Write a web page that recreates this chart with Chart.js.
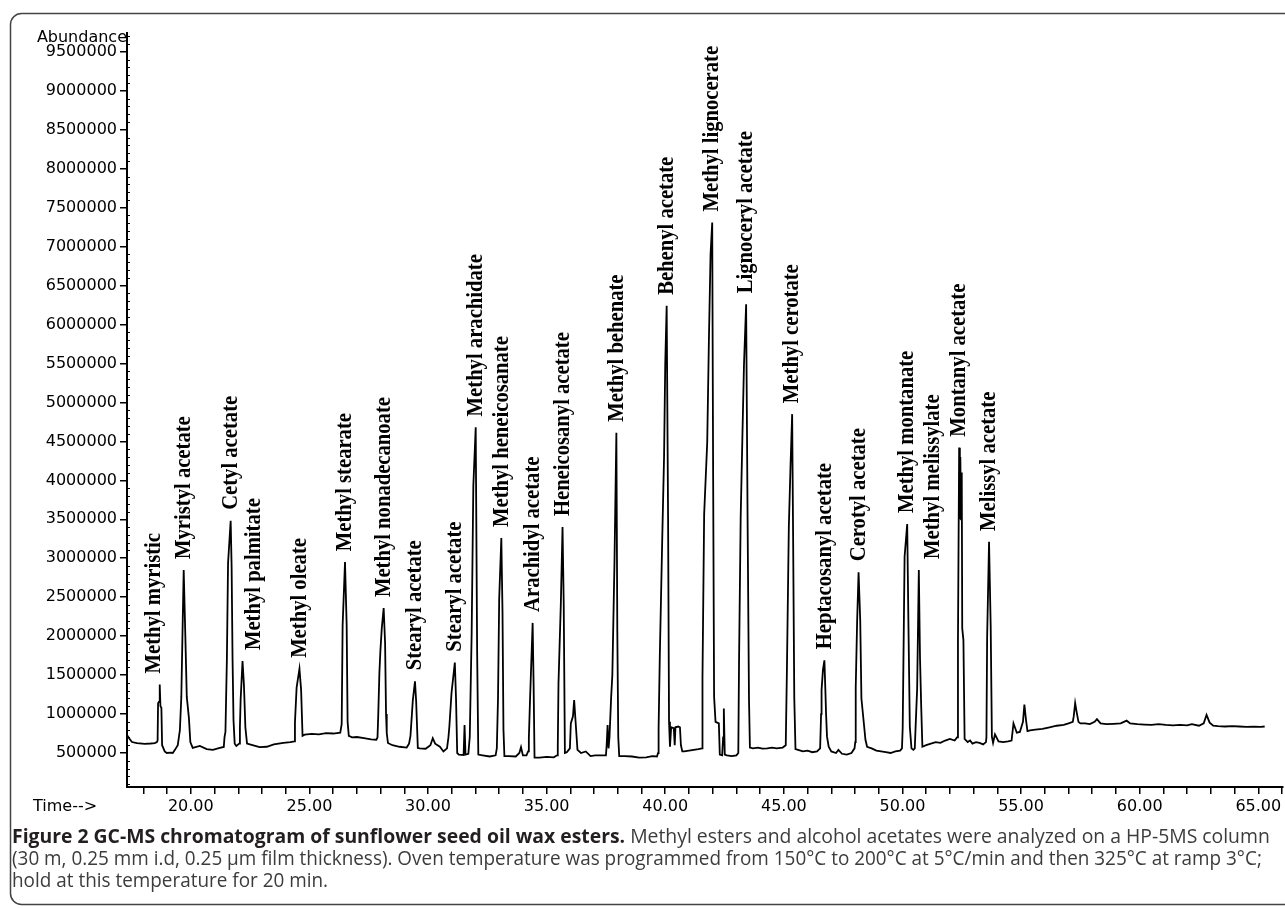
<!DOCTYPE html>
<html>
<head>
<meta charset="utf-8">
<title>GC-MS chromatogram of sunflower seed oil wax esters</title>
<script src="https://cdn.jsdelivr.net/npm/chart.js@4.4.1/dist/chart.umd.min.js"></script>
<style>
    html, body { margin: 0; padding: 0; background: #fff; }
    #page { position: relative; width: 1285px; height: 908px; overflow: hidden; }
    #chartBox { position: absolute; left: 0; top: 0; width: 1285px; height: 908px; }
    .caption {
        position: absolute; left: 12px; white-space: nowrap;
        font-family: 'Open Sans', sans-serif; font-size: 20px; line-height: 22px;
        color: #3c3c3c; transform-origin: 0 50%;
    }
    .caption b { color: #231f20; }
</style>
</head>
<body>
<div id="page">
    <div id="chartBox"><canvas id="gcms"></canvas></div>
    <div class="caption" id="cap1" style="top:825px"><b>Figure 2 GC-MS chromatogram of sunflower seed oil wax esters.</b> Methyl esters and alcohol acetates were analyzed on a HP-5MS column</div>
    <div class="caption" id="cap2" style="top:847px">(30 m, 0.25 mm i.d, 0.25 µm film thickness). Oven temperature was programmed from 150°C to 200°C at 5°C/min and then 325°C at ramp 3°C;</div>
    <div class="caption" id="cap3" style="top:869px">hold at this temperature for 20 min.</div>
</div>
<script>
// retention time (min) and abundance
const retentionMin = [
    17.31, 17.39, 17.52, 17.73, 18.06, 18.30, 18.48, 18.57, 18.60, 18.62,
    18.66, 18.69, 18.72, 18.76, 18.79, 18.90, 18.99, 19.15, 19.24, 19.33,
    19.45, 19.54, 19.60, 19.66, 19.70, 19.77, 19.83, 19.92, 19.98, 20.08,
    20.38, 20.67, 20.93, 21.22, 21.39, 21.42, 21.46, 21.52, 21.57, 21.68,
    21.72, 21.76, 21.80, 21.85, 21.92, 22.04, 22.07, 22.10, 22.18, 22.24,
    22.30, 22.37, 22.60, 22.90, 23.20, 23.50, 23.90, 24.20, 24.36, 24.39,
    24.46, 24.58, 24.65, 24.71, 24.80, 25.10, 25.40, 25.70, 26.00, 26.30,
    26.36, 26.40, 26.50, 26.57, 26.61, 26.66, 26.80, 27.00, 27.30, 27.60,
    27.82, 27.87, 27.90, 27.95, 27.99, 28.05, 28.13, 28.19, 28.23, 28.26,
    28.31, 28.50, 28.80, 29.10, 29.20, 29.26, 29.36, 29.45, 29.50, 29.57,
    29.65, 29.90, 30.10, 30.20, 30.30, 30.50, 30.65, 30.80, 30.86, 30.90,
    30.99, 31.13, 31.18, 31.23, 31.30, 31.50, 31.54, 31.58, 31.70, 31.76,
    31.84, 31.91, 32.01, 32.07, 32.12, 32.30, 32.60, 32.85, 32.90, 32.95,
    33.00, 33.09, 33.14, 33.18, 33.22, 33.40, 33.70, 33.85, 33.92, 34.00,
    34.15, 34.22, 34.25, 34.30, 34.37, 34.41, 34.45, 34.49, 34.70, 35.00,
    35.30, 35.44, 35.47, 35.50, 35.60, 35.67, 35.72, 35.77, 35.85, 35.98,
    36.02, 36.11, 36.16, 36.21, 36.30, 36.45, 36.65, 36.85, 37.05, 37.35,
    37.50, 37.53, 37.57, 37.61, 37.65, 37.72, 37.77, 37.86, 37.94, 37.98,
    38.02, 38.06, 38.30, 38.60, 38.90, 39.20, 39.45, 39.65, 39.70, 39.72,
    39.77, 39.87, 39.95, 40.00, 40.06, 40.12, 40.16, 40.20, 40.25, 40.36,
    40.40, 40.43, 40.55, 40.62, 40.66, 40.72, 40.80, 41.00, 41.20, 41.40,
    41.55, 41.57, 41.64, 41.77, 41.84, 41.91, 41.98, 42.02, 42.06, 42.12,
    42.26, 42.30, 42.40, 42.44, 42.47, 42.51, 42.60, 42.80, 43.00, 43.08,
    43.11, 43.18, 43.25, 43.32, 43.41, 43.47, 43.53, 43.57, 43.70, 43.90,
    44.10, 44.30, 44.50, 44.70, 44.95, 45.08, 45.13, 45.21, 45.28, 45.35,
    45.39, 45.44, 45.49, 45.60, 45.80, 46.00, 46.20, 46.40, 46.53, 46.57,
    46.59, 46.65, 46.71, 46.75, 46.78, 46.82, 46.89, 47.00, 47.20, 47.30,
    47.45, 47.65, 47.85, 47.98, 48.01, 48.03, 48.09, 48.15, 48.22, 48.27,
    48.36, 48.44, 48.51, 48.70, 48.90, 49.10, 49.30, 49.50, 49.70, 49.90,
    49.98, 50.01, 50.04, 50.09, 50.20, 50.25, 50.31, 50.38, 50.46, 50.52,
    50.55, 50.62, 50.69, 50.74, 50.79, 50.84, 51.00, 51.20, 51.40, 51.60,
    51.80, 52.00, 52.20, 52.30, 52.34, 52.39, 52.42, 52.44, 52.47, 52.50,
    52.52, 52.57, 52.62, 52.75, 52.85, 52.95, 53.10, 53.25, 53.40, 53.52,
    53.54, 53.57, 53.65, 53.72, 53.77, 53.82, 53.90, 54.05, 54.25, 54.45,
    54.60, 54.68, 54.75, 54.82, 54.95, 55.08, 55.14, 55.21, 55.27, 55.38,
    55.60, 55.90, 56.20, 56.50, 56.80, 57.00, 57.18, 57.22, 57.28, 57.34,
    57.42, 57.50, 57.70, 57.90, 58.10, 58.20, 58.35, 58.60, 58.90, 59.20,
    59.45, 59.60, 59.90, 60.20, 60.50, 60.80, 61.10, 61.40, 61.70, 62.00,
    62.20, 62.50, 62.70, 62.82, 62.95, 63.10, 63.30, 63.60, 63.90, 64.20,
    64.50, 64.80, 65.10, 65.27
];

const abundance = [
    731000, 693000, 641000, 628000, 616000, 622000, 628000, 640000, 660000, 1140000,
    1160000, 1380000, 1100000, 1080000, 600000, 520000, 500000, 505000, 500000, 540000,
    600000, 795000, 1220000, 2210000, 2850000, 1990000, 1220000, 950000, 640000, 565000,
    590000, 550000, 540000, 565000, 577000, 700000, 770000, 1690000, 2940000, 3480000,
    2900000, 1700000, 920000, 620000, 590000, 620000, 830000, 1180000, 1680000, 1370000,
    830000, 620000, 600000, 575000, 580000, 610000, 630000, 640000, 650000, 890000,
    1340000, 1580000, 1310000, 720000, 735000, 745000, 740000, 755000, 750000, 760000,
    870000, 2140000, 2950000, 2140000, 900000, 720000, 700000, 705000, 690000, 675000,
    670000, 700000, 970000, 1530000, 1800000, 2100000, 2360000, 1910000, 1000000, 757000,
    628000, 600000, 580000, 570000, 620000, 720000, 1180000, 1420000, 1160000, 565000,
    560000, 555000, 600000, 690000, 620000, 580000, 520000, 560000, 700000, 840000,
    1270000, 1660000, 1200000, 500000, 480000, 475000, 860000, 480000, 490000, 710000,
    2050000, 3930000, 4680000, 1810000, 480000, 470000, 455000, 470000, 560000, 1200000,
    2480000, 3260000, 2300000, 800000, 460000, 460000, 455000, 500000, 575000, 470000,
    470000, 520000, 690000, 1180000, 1810000, 2170000, 1400000, 440000, 440000, 450000,
    445000, 470000, 580000, 1400000, 2430000, 3400000, 2430000, 500000, 510000, 560000,
    880000, 970000, 1180000, 950000, 540000, 500000, 520000, 460000, 470000, 470000,
    470000, 600000, 860000, 560000, 700000, 1220000, 1500000, 2950000, 4610000, 2050000,
    700000, 460000, 460000, 455000, 440000, 445000, 460000, 455000, 500000, 820000,
    1730000, 3200000, 4300000, 5500000, 6240000, 3500000, 900000, 580000, 830000, 820000,
    600000, 830000, 840000, 830000, 600000, 520000, 520000, 530000, 540000, 550000,
    560000, 1460000, 3560000, 4490000, 5790000, 6900000, 7310000, 4000000, 1220000, 900000,
    880000, 480000, 470000, 700000, 1070000, 480000, 470000, 460000, 470000, 500000,
    1640000, 3520000, 4520000, 5490000, 6260000, 3550000, 1200000, 570000, 560000, 570000,
    555000, 560000, 570000, 560000, 570000, 600000, 1580000, 3400000, 4170000, 4850000,
    3300000, 1200000, 550000, 540000, 520000, 530000, 510000, 520000, 560000, 1000000,
    1310000, 1570000, 1690000, 1310000, 1000000, 710000, 580000, 520000, 500000, 540000,
    490000, 480000, 500000, 560000, 640000, 1340000, 2200000, 2820000, 2200000, 1200000,
    920000, 670000, 580000, 560000, 530000, 520000, 510000, 500000, 520000, 530000,
    560000, 820000, 1650000, 3020000, 3440000, 2200000, 840000, 560000, 540000, 560000,
    800000, 1330000, 2850000, 1720000, 1100000, 580000, 600000, 620000, 640000, 630000,
    660000, 680000, 660000, 700000, 1950000, 4420000, 3500000, 4300000, 3500000, 4100000,
    2100000, 1950000, 680000, 640000, 660000, 620000, 640000, 630000, 610000, 640000,
    700000, 1990000, 3210000, 2120000, 710000, 630000, 740000, 650000, 640000, 650000,
    660000, 880000, 820000, 760000, 770000, 900000, 1120000, 920000, 780000, 790000,
    800000, 810000, 830000, 850000, 860000, 880000, 900000, 970000, 1140000, 1030000,
    900000, 880000, 880000, 870000, 900000, 935000, 880000, 870000, 875000, 880000,
    915000, 880000, 870000, 865000, 860000, 870000, 860000, 855000, 860000, 855000,
    870000, 850000, 880000, 990000, 890000, 850000, 845000, 840000, 845000, 840000,
    835000, 838000, 835000, 840000
];

const peakNames = [
    'Methyl myristic', 'Myristyl acetate', 'Cetyl acetate', 'Methyl palmitate',
    'Methyl oleate', 'Methyl stearate', 'Methyl nonadecanoate', 'Stearyl acetate',
    'Stearyl acetate', 'Methyl arachidate', 'Methyl heneicosanate', 'Arachidyl acetate',
    'Heneicosanyl acetate', 'Methyl behenate', 'Behenyl acetate', 'Methyl lignocerate',
    'Lignoceryl acetate', 'Methyl cerotate', 'Heptacosanyl acetate', 'Cerotyl acetate',
    'Methyl montanate', 'Methyl melissylate', 'Montanyl acetate', 'Melissyl acetate'
];
const peakTimes = [
    18.69, 19.70, 21.68, 22.18, 24.58, 26.50, 28.13, 29.45,
    31.13, 32.01, 33.09, 34.41, 35.67, 37.94, 40.06, 41.98,
    43.41, 45.35, 46.71, 48.15, 50.20, 50.69, 52.39, 53.65
];

const yTickValues = [500000, 1000000, 1500000, 2000000, 2500000, 3000000, 3500000, 4000000, 4500000, 5000000,
    5500000, 6000000, 6500000, 7000000, 7500000, 8000000, 8500000, 9000000, 9500000];
const xTickValues = [18, 19, 20, 21, 22, 23, 24, 25, 26, 27, 28, 29, 30, 31, 32, 33, 34, 35, 36, 37, 38, 39, 40,
    41, 42, 43, 44, 45, 46, 47, 48, 49, 50, 51, 52, 53, 54, 55, 56, 57, 58, 59, 60, 61, 62, 63, 64, 65, 66];

// some names sit a little off their peak so that neighbours do not collide
const labelNudge = {'Methyl myristic': -6, 'Methyl palmitate': 11, 'Methyl melissylate': 14};
const axisFont = {family: 'DejaVu Sans', size: 16};

// fit the caption lines to the width they take in the figure
const fitLine = (id, width) => {
    const el = document.getElementById(id);
    const s = width / el.scrollWidth;
    el.style.transform = `scaleX(${s})`;
    return s;
};
fitLine('cap1', 1258);
const capScale = fitLine('cap2', 1250);
document.getElementById('cap3').style.transform = `scaleX(${capScale})`;

const framePlugin = {
    id: 'frame',
    beforeDraw(chart) {
        const ctx = chart.ctx;
        ctx.save();
        ctx.fillStyle = '#fff';
        ctx.fillRect(0, 0, chart.width, chart.height);
        ctx.strokeStyle = '#444';
        ctx.lineWidth = 1.5;
        ctx.beginPath();
        ctx.roundRect(10.5, 13.5, 1300, 891, 11);
        ctx.stroke();
        ctx.restore();
    },
    afterDraw(chart) {
        const {ctx, chartArea, scales: {y}} = chart;
        ctx.save();
        ctx.fillStyle = '#000';
        ctx.font = '16px "DejaVu Sans"';
        ctx.textBaseline = 'middle';
        ctx.textAlign = 'right';
        ctx.fillText('Abundance', chartArea.left, 38);
        ctx.textAlign = 'left';
        ctx.fillText('Time-->', 33, 807);

        // small ticks every 100000 on the abundance axis
        ctx.strokeStyle = '#000';
        ctx.lineWidth = 1;
        ctx.beginPath();
        for (let v = 100000; v <= 9700000; v += 100000) {
            if (v % 500000 === 0) continue;
            const py = Math.round(y.getPixelForValue(v)) + 0.5;
            ctx.moveTo(chartArea.left, py);
            ctx.lineTo(chartArea.left + 3, py);
        }
        ctx.stroke();
        ctx.restore();
    }
};

const peakLabelPlugin = {
    id: 'peakLabels',
    afterDatasetsDraw(chart) {
        const {ctx, scales: {x, y}} = chart;
        ctx.save();
        ctx.fillStyle = '#000';
        ctx.font = 'bold 24px "Liberation Serif", "Times New Roman", serif';
        ctx.textAlign = 'left';
        ctx.textBaseline = 'middle';
        peakNames.forEach((name, i) => {
            // top of the peak closest to the named time
            let best = -1;
            retentionMin.forEach((t, j) => {
                if (Math.abs(t - peakTimes[i]) < 0.1 && (best < 0 || abundance[j] > abundance[best])) best = j;
            });
            const px = x.getPixelForValue(retentionMin[best]) + (labelNudge[name] || 0);
            const py = y.getPixelForValue(abundance[best]) - 11;
            ctx.save();
            ctx.translate(px, py);
            ctx.rotate(-Math.PI / 2);
            ctx.scale(0.86, 1);
            ctx.fillText(name, 0, 0);
            ctx.restore();
        });
        ctx.restore();
    }
};

new Chart(document.getElementById('gcms'), {
    type: 'line',
    data: {
        datasets: [{
            data: retentionMin.map((t, i) => ({x: t, y: abundance[i]})),
            borderColor: '#000',
            borderWidth: 1.8,
            pointRadius: 0,
            tension: 0,
            fill: false
        }]
    },
    options: {
        responsive: true,
        maintainAspectRatio: false,
        animation: false,
        layout: {padding: {top: 33, left: 0, right: 0, bottom: 0}},
        plugins: {
            legend: {display: false},
            tooltip: {enabled: false}
        },
        scales: {
            x: {
                type: 'linear',
                min: 17.31,
                max: 66.05,
                afterBuildTicks: scale => { scale.ticks = xTickValues.map(v => ({value: v})); },
                afterFit: scale => { scale.height = 121; },
                ticks: {
                    autoSkip: false,
                    maxRotation: 0,
                    padding: 3,
                    color: '#000',
                    font: axisFont,
                    callback: v => (v % 5 === 0 ? v.toFixed(2) : '')
                },
                grid: {drawOnChartArea: false, drawTicks: true, tickLength: 7, color: '#000', lineWidth: 1.5},
                border: {display: true, color: '#000', width: 2}
            },
            y: {
                type: 'linear',
                min: 63500,
                max: 9742600,
                afterBuildTicks: scale => { scale.ticks = yTickValues.map(v => ({value: v})); },
                afterFit: scale => { scale.width = 127; },
                ticks: {
                    padding: 3,
                    color: '#000',
                    font: axisFont,
                    callback: v => String(v)
                },
                grid: {drawOnChartArea: false, drawTicks: true, tickLength: 7, color: '#000', lineWidth: 1.5},
                border: {display: true, color: '#000', width: 2}
            }
        }
    },
    plugins: [framePlugin, peakLabelPlugin]
});
</script>
</body>
</html>
